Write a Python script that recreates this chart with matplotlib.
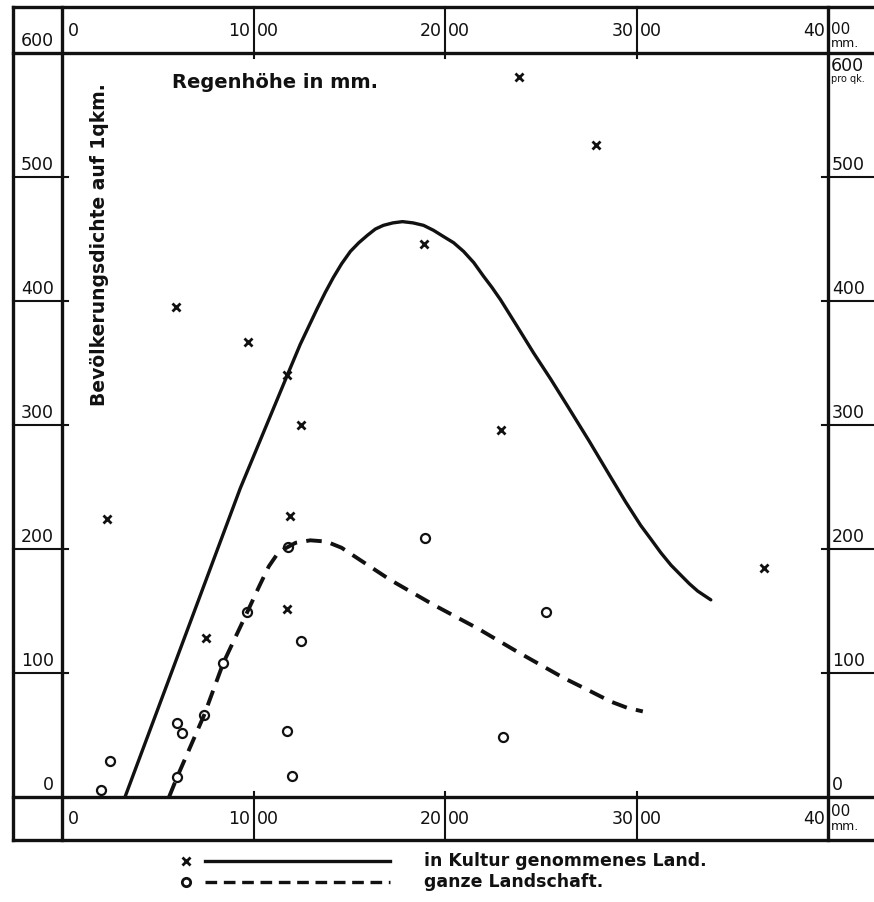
import matplotlib.pyplot as plt
from matplotlib.lines import Line2D
from matplotlib.transforms import offset_copy

# x = in Kultur genommenes Land
kultur_x = [235, 596, 972, 753, 1176, 1192, 1176, 1249, 1892, 2389, 2290, 2786, 3664]
kultur_y = [224, 395, 367, 128, 340, 227, 152, 300, 446, 581, 296, 526, 185]

# o = ganze Landschaft
land_x = [251, 204, 601, 627, 601, 742, 842, 967, 1181, 1249, 1176, 1202, 1897, 2525, 2305]
land_y = [29, 6, 60, 52, 16, 66, 108, 149, 202, 126, 53, 17, 209, 149, 48]

# Kurven (von Hand gezogen im Original)
kurve_kultur_x = [329, 931, 1176, 1244, 1290, 1333, 1375, 1417, 1460, 1506, 1550, 1595,
                  1636, 1678, 1728, 1778, 1833, 1888, 1940, 1992, 2045, 2097, 2150, 2201,
                  2245, 2290, 2375, 2463, 2552, 2641, 2753, 2865, 2943, 3022, 3075, 3127,
                  3180, 3231, 3276, 3320, 3388]
kurve_kultur_y = [0, 249, 340, 365, 380, 394, 407, 419, 430, 440, 447, 453,
                  458, 461, 463, 464, 463, 461, 457, 452, 447, 440, 431, 420,
                  411, 401, 380, 358, 337, 315, 287, 258, 238, 219, 208, 197,
                  187, 179, 172, 166, 159]

kurve_land_x = [559, 601, 742, 842, 967, 1030, 1080, 1120, 1160, 1220, 1297, 1380,
                1460, 1558, 1715, 1940, 2170, 2379, 2620, 2750, 2865, 2950, 3033]
kurve_land_y = [0, 16, 66, 108, 149, 170, 186, 195, 200, 205, 207, 206,
                201, 191, 175, 155, 136, 117, 96, 86, 77, 72, 69]

x_ticks = [0, 1000, 2000, 3000, 4000]
y_ticks = [0, 100, 200, 300, 400, 500, 600]

# Layout in Pixel (Bild 874 x 902)
W, H = 874, 902
X0, X1 = 62, 828    # Rand links / rechts der Zeichenfläche
Y0, Y1 = 797, 53    # 0-Linie / 600-Linie

def fx(px):
    return (px - X0) / (X1 - X0)

def fy(py):
    return (Y0 - py) / (Y0 - Y1)

plt.rcParams['font.family'] = ['DejaVu Sans']
INK = '#111111'

fig = plt.figure(figsize=(W / 100, H / 100), dpi=100)
fig.patch.set_facecolor('white')
ax = fig.add_axes([X0 / W, (H - Y0) / H, (X1 - X0) / W, (Y0 - Y1) / H])
ax.set_xlim(0, 4000)
ax.set_ylim(0, 600)
ax.axis('off')

tx = ax.get_xaxis_transform()
ty = ax.get_yaxis_transform()
frame_lw = 2.4
thin_lw = 1.5

# Rahmen aussen
ax.plot([fx(13), fx(13)], [fy(7), fy(840)], transform=ax.transAxes, color=INK, lw=frame_lw, clip_on=False)
ax.plot([fx(13), fx(880)], [fy(7), fy(7)], transform=ax.transAxes, color=INK, lw=frame_lw, clip_on=False)
ax.plot([fx(13), fx(880)], [fy(840), fy(840)], transform=ax.transAxes, color=INK, lw=frame_lw, clip_on=False)

# Linien der Zeichenfläche, durch die Randstreifen verlängert
for xv in [x_ticks[0], x_ticks[-1]]:
    ax.plot([xv, xv], [fy(7), fy(840)], transform=tx, color=INK, lw=frame_lw, clip_on=False)
for yv in [y_ticks[0], y_ticks[-1]]:
    ax.plot([fx(13), fx(880)], [yv, yv], transform=ty, color=INK, lw=frame_lw, clip_on=False)

# Teilstriche in den Randspalten
for yv in y_ticks[1:-1]:
    ax.plot([fx(13), fx(68)], [yv, yv], transform=ty, color=INK, lw=thin_lw, clip_on=False)
    ax.plot([fx(822), fx(880)], [yv, yv], transform=ty, color=INK, lw=thin_lw, clip_on=False)
for xv in x_ticks[1:-1]:
    ax.plot([xv, xv], [fy(7), fy(58)], transform=tx, color=INK, lw=thin_lw, clip_on=False)
    ax.plot([xv, xv], [fy(792), fy(840)], transform=tx, color=INK, lw=thin_lw, clip_on=False)

# Beschriftung links / rechts
fs = 12.5
ty_up = offset_copy(ty, fig=fig, x=0, y=3, units='dots')
ty_down = offset_copy(ty, fig=fig, x=0, y=-4, units='dots')
ty_down2 = offset_copy(ty, fig=fig, x=0, y=-21, units='dots')
for yv in y_ticks:
    ax.text(fx(54), yv, str(yv), transform=ty_up, ha='right', va='bottom', fontsize=fs, color=INK)
    if yv < 600:
        ax.text(fx(832), yv, str(yv), transform=ty_up, ha='left', va='bottom', fontsize=fs, color=INK)
    else:
        ax.text(fx(831), yv, str(yv), transform=ty_down, ha='left', va='top', fontsize=fs, color=INK)
        ax.text(fx(831), yv, 'pro qk.', transform=ty_down2, ha='left', va='top', fontsize=7, color=INK)

# Beschriftung oben / unten (Zahl vom Teilstrich geteilt: 10|00)
tx_l = offset_copy(tx, fig=fig, x=-3, y=0, units='dots')
tx_r = offset_copy(tx, fig=fig, x=3, y=0, units='dots')
tx_0 = offset_copy(tx, fig=fig, x=6, y=0, units='dots')
# (Zeile der Zahlen, Zeile "00" rechts, Zeile "mm." rechts)
for yc, y00, ymm in [(31, 29, 44), (819, 812, 827)]:
    for xv in x_ticks:
        if xv == 0:
            ax.text(xv, fy(yc), '0', transform=tx_0, ha='left', va='center', fontsize=fs, color=INK)
            continue
        s = str(xv)
        ax.text(xv, fy(yc), s[:-2], transform=tx_l, ha='right', va='center', fontsize=fs, color=INK)
        if xv == x_ticks[-1]:
            ax.text(xv, fy(y00), s[-2:], transform=tx_r, ha='left', va='center', fontsize=11, color=INK)
            ax.text(xv, fy(ymm), 'mm.', transform=tx_r, ha='left', va='center', fontsize=9, color=INK)
        else:
            ax.text(xv, fy(yc), s[-2:], transform=tx_r, ha='left', va='center', fontsize=fs, color=INK)

# Achsentitel
ax.text(fx(275), fy(82), 'Regenhöhe in mm.', transform=ax.transAxes, ha='center', va='center',
        fontsize=14, fontweight='bold', color=INK)
ax.text(fx(100), fy(245), 'Bevölkerungsdichte auf 1qkm.', transform=ax.transAxes, ha='center',
        va='center', rotation=90, fontsize=13.5, fontweight='bold', color=INK)

# Kurven und Punkte
ax.plot(kurve_kultur_x, kurve_kultur_y, color=INK, lw=2.4, solid_capstyle='round',
        solid_joinstyle='round', clip_on=False)
ax.plot(kurve_land_x, kurve_land_y, color=INK, lw=2.8, ls=(0, (4, 2.4)), clip_on=False)
ax.plot(kultur_x, kultur_y, ls='none', marker='x', ms=5.5, mew=2, color=INK, clip_on=False)
ax.plot(land_x, land_y, ls='none', marker='o', ms=6.5, mew=1.6, mfc='none', mec=INK, clip_on=False)

# Zeichenerklärung unter dem Rahmen
def fig_pt(px, py):
    return px / W, 1 - py / H

for py, mk, style, label in [(861, 'x', '-', 'in Kultur genommenes Land.'),
                             (882, 'o', (0, (3.5, 2)), 'ganze Landschaft.')]:
    mx, my = fig_pt(186, py)
    fig.add_artist(Line2D([mx], [my], marker=mk, ms=6, mew=2, mfc='none', mec=INK, ls='none'))
    x1, y1 = fig_pt(205, py)
    x2, _ = fig_pt(390, py)
    fig.add_artist(Line2D([x1, x2], [y1, y1], color=INK, lw=2.4, ls=style))
    tx_, ty_ = fig_pt(424, py)
    fig.text(tx_, ty_, label, ha='left', va='center', fontsize=12.5, fontweight='bold', color=INK)

fig.savefig('out.png', dpi=100, facecolor='white')
